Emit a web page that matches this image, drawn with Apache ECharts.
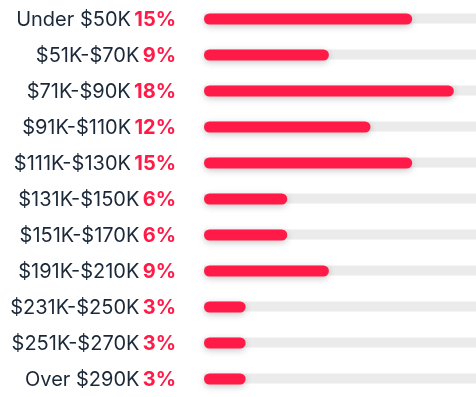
<!DOCTYPE html>
<html>
<head>
<meta charset="utf-8">
<style>
  html, body { margin: 0; padding: 0; background: #ffffff; }
  #chart { width: 476px; height: 397px; }
</style>
<script src="https://cdn.jsdelivr.net/npm/echarts@6/dist/echarts.min.js"></script>
</head>
<body>
<div id="chart"></div>
<script>
// Income brackets and share of respondents (%)
const categories = [
  'Under $50K', '$51K-$70K', '$71K-$90K', '$91K-$110K', '$111K-$130K',
  '$131K-$150K', '$151K-$170K', '$191K-$210K', '$231K-$250K',
  '$251K-$270K', 'Over $290K'
];
const shares = [15, 9, 18, 12, 15, 6, 6, 9, 3, 3, 3];
const trackMax = 19.6;

const chart = echarts.init(document.getElementById('chart'));
chart.setOption({
  animation: false,
  grid: { left: 204, right: 0, top: 1, height: 398 },
  xAxis: {
    type: 'value', min: 0, max: trackMax,
    show: false
  },
  yAxis: {
    type: 'category',
    data: categories,
    inverse: true,
    axisLine: { show: false },
    axisTick: { show: false },
    axisLabel: {
      margin: 28,
      formatter: (v, i) => '{a|' + v + '} {b|' + shares[i] + '%}',
      rich: {
        a: { fontFamily: 'Inter', fontSize: 20, color: '#1b2838', padding: [2, 0, 0, 0] },
        b: { fontFamily: 'Inter', fontSize: 20, fontWeight: 'bold', color: '#ff1a47', padding: [2, 0, 0, 0] }
      }
    }
  },
  series: [
    {
      type: 'bar',
      data: categories.map(() => trackMax),
      barWidth: 10,
      itemStyle: { color: '#ebebeb' },
      silent: true,
      z: 1
    },
    {
      type: 'bar',
      data: shares,
      barWidth: 11,
      barGap: '-100%',
      itemStyle: {
        color: '#ff1a47',
        borderRadius: 6,
        shadowColor: 'rgba(0,0,0,0.22)',
        shadowBlur: 7,
        shadowOffsetY: 2
      },
      z: 2
    }
  ]
});
</script>
</body>
</html>
